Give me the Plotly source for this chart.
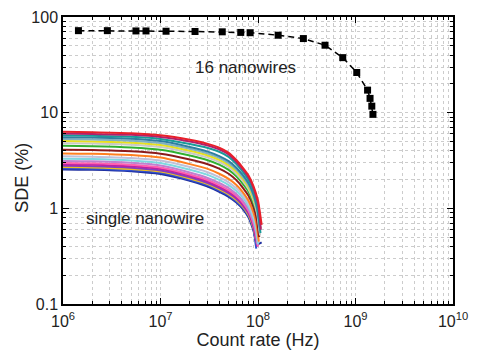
import plotly.graph_objects as go

# 16 nanowires (black squares)
array_rate = [1.44e6, 2.85e6, 5.6e6, 7.1e6, 1.14e7, 2.26e7, 4.3e7, 6.65e7, 8.3e7,
              1.61e8, 2.92e8, 4.87e8, 7.4e8, 1.03e9, 1.33e9, 1.41e9, 1.47e9, 1.51e9]
array_sde = [72, 72, 71.5, 71.5, 71, 70.5, 70, 69, 68.5,
             64.5, 59.5, 50.7, 37.6, 26.3, 17.2, 14.1, 11.7, 9.6]

# single nanowire curves
single_rate = [1e6, 2e6, 5e6, 1e7, 2e7, 3e7, 4e7, 5e7, 6e7, 7e7, 8e7, 9e7]
single_sde = [
    [6.30, 6.25, 6.10, 5.80, 5.20, 4.75, 4.30, 3.80, 3.20, 2.65, 2.20, 1.70],
    [6.05, 6.00, 5.86, 5.57, 4.99, 4.56, 4.13, 3.65, 3.07, 2.55, 2.11, 1.63],
    [5.80, 5.75, 5.60, 5.32, 4.70, 4.30, 3.90, 3.45, 2.90, 2.40, 1.98, 1.52],
    [5.55, 5.50, 5.34, 5.05, 4.38, 3.94, 3.52, 3.11, 2.66, 2.22, 1.83, 1.39],
    [5.30, 5.25, 5.10, 4.82, 4.19, 3.76, 3.37, 2.97, 2.54, 2.12, 1.75, 1.33],
    [5.05, 5.00, 4.86, 4.60, 3.99, 3.59, 3.21, 2.83, 2.42, 2.02, 1.67, 1.26],
    [4.80, 4.75, 4.62, 4.37, 3.79, 3.41, 3.05, 2.69, 2.30, 1.92, 1.58, 1.20],
    [4.50, 4.46, 4.33, 4.10, 3.56, 3.20, 2.86, 2.52, 2.16, 1.80, 1.49, 1.13],
    [4.10, 4.06, 3.94, 3.73, 3.24, 2.91, 2.60, 2.30, 1.97, 1.64, 1.35, 1.03],
    [3.75, 3.72, 3.60, 3.39, 2.90, 2.60, 2.30, 2.03, 1.75, 1.47, 1.20, 0.90],
    [3.50, 3.47, 3.36, 3.16, 2.70, 2.40, 2.12, 1.87, 1.62, 1.37, 1.12, 0.84],
    [3.30, 3.28, 3.17, 2.98, 2.53, 2.25, 1.98, 1.75, 1.52, 1.29, 1.05, 0.78],
    [3.12, 3.10, 2.99, 2.80, 2.37, 2.09, 1.84, 1.63, 1.41, 1.20, 0.98, 0.73],
    [2.98, 2.96, 2.85, 2.67, 2.26, 1.99, 1.75, 1.55, 1.35, 1.15, 0.94, 0.69],
    [2.88, 2.86, 2.75, 2.58, 2.19, 1.92, 1.68, 1.49, 1.30, 1.11, 0.91, 0.66],
    [2.78, 2.76, 2.66, 2.49, 2.11, 1.85, 1.63, 1.44, 1.26, 1.07, 0.88, 0.64],
    [2.70, 2.68, 2.58, 2.42, 2.05, 1.80, 1.58, 1.40, 1.22, 1.04, 0.85, 0.62],
    [2.62, 2.60, 2.50, 2.35, 1.99, 1.75, 1.53, 1.36, 1.18, 1.01, 0.83, 0.60],
    [2.55, 2.53, 2.44, 2.28, 1.94, 1.70, 1.49, 1.32, 1.15, 0.98, 0.80, 0.58],
]
tail_rate = [
    [1.00e8, 1.09e8], [1.00e8, 1.07e8], [9.8e7, 1.06e8], [9.8e7, 1.05e8],
    [9.8e7, 1.04e8], [1.00e8, 1.08e8], [9.8e7, 1.05e8], [1.00e8, 1.06e8],
    [9.7e7, 1.03e8], [9.6e7, 1.02e8], [9.6e7, 1.01e8], [9.5e7, 1.00e8],
    [9.5e7, 9.9e7], [9.5e7, 1.00e8], [9.4e7, 9.9e7], [9.4e7, 9.8e7],
    [9.4e7, 9.8e7], [9.3e7, 9.6e7], [9.8e7, 1.09e8],
]
tail_sde = [
    [1.20, 0.67], [1.12, 0.60], [1.10, 0.55], [1.00, 0.62],
    [0.95, 0.58], [0.90, 0.70], [0.88, 0.52], [0.85, 0.62],
    [0.78, 0.50], [0.70, 0.45], [0.65, 0.45], [0.62, 0.42],
    [0.58, 0.42], [0.55, 0.40], [0.53, 0.40], [0.51, 0.40],
    [0.50, 0.42], [0.48, 0.38], [0.42, 0.44],
]
single_colors = ["#e8202a", "#b0206a", "#1a9a9a", "#2f7fa0", "#7fb0c0", "#e6e020",
                 "#c8c8c8", "#30b030", "#8b1a1a", "#ff7f20", "#c0c0d8", "#80d8e0",
                 "#c080d0", "#ff60b0", "#c020a0", "#8040c0", "#f0c020", "#3050d0",
                 "#2030a0"]

x_tickvals = [1e6, 1e7, 1e8, 1e9, 1e10]
x_ticktext = ["10<sup>6</sup>", "10<sup>7</sup>", "10<sup>8</sup>", "10<sup>9</sup>", "10<sup>10</sup>"]
y_tickvals = [0.1, 1, 10, 100]
y_ticktext = ["0.1", "1", "10", "100"]

fig = go.Figure()

# draw in reverse so the top (red) curve is on top
for i in reversed(range(len(single_sde))):
    fig.add_trace(go.Scatter(
        x=single_rate + tail_rate[i], y=single_sde[i] + tail_sde[i],
        mode="lines", line=dict(color=single_colors[i], width=2, shape="spline", smoothing=0.6),
        showlegend=False, hoverinfo="skip"))

fig.add_trace(go.Scatter(
    x=array_rate, y=array_sde, mode="lines+markers",
    line=dict(color="black", width=1.5, dash="6px,4px"),
    marker=dict(symbol="square", size=7, color="black"),
    showlegend=False))

font_family = "Liberation Sans, Arial, sans-serif"
grid_col = "#cccccc"

common = dict(
    type="log", showline=True, linecolor="black", linewidth=1.5, mirror="ticks",
    ticks="inside", ticklen=6, tickwidth=1, tickcolor="black",
    showgrid=True, gridcolor=grid_col, griddash="dot", gridwidth=1,
    zeroline=False, automargin=False,
    tickfont=dict(family=font_family, size=16, color="#222"),
    minor=dict(ticks="inside", ticklen=3, tickcolor="black", showgrid=True,
               gridcolor=grid_col, griddash="dot", gridwidth=1, dtick="D1"),
)

fig.update_xaxes(range=[6, 10], tickmode="array", tickvals=x_tickvals, ticktext=x_ticktext,
                 ticklabelstandoff=2,
                 title=dict(text="Count rate (Hz)", font=dict(family=font_family, size=18, color="#222"),
                            standoff=2), **common)
fig.update_yaxes(range=[-1, 2], tickmode="array", tickvals=y_tickvals, ticktext=y_ticktext,
                 **common)

ann_font = dict(family=font_family, size=17, color="#222")
fig.add_annotation(text="SDE (%)", xref="paper", yref="paper", x=-0.105, y=0.44,
                   textangle=-90, showarrow=False, xanchor="center", yanchor="middle",
                   font=dict(family=font_family, size=18, color="#222"))
fig.add_annotation(text="16 nanowires", xref="paper", yref="paper",
                   x=(245 - 63) / 390, y=(304 - 67) / 287, showarrow=False,
                   xanchor="center", yanchor="middle", font=ann_font)
fig.add_annotation(text="single nanowire", xref="paper", yref="paper",
                   x=(145 - 63) / 390, y=(304 - 218) / 287, showarrow=False,
                   xanchor="center", yanchor="middle", font=ann_font)

# page body adds an 8px offset; margins compensate so the plot area lands at 63..453 x 17..304
fig.update_layout(
    width=480, height=361, margin=dict(l=55, r=35, t=9, b=65),
    paper_bgcolor="white", plot_bgcolor="white",
    font=dict(family=font_family),
)

fig.write_html("out.html")
